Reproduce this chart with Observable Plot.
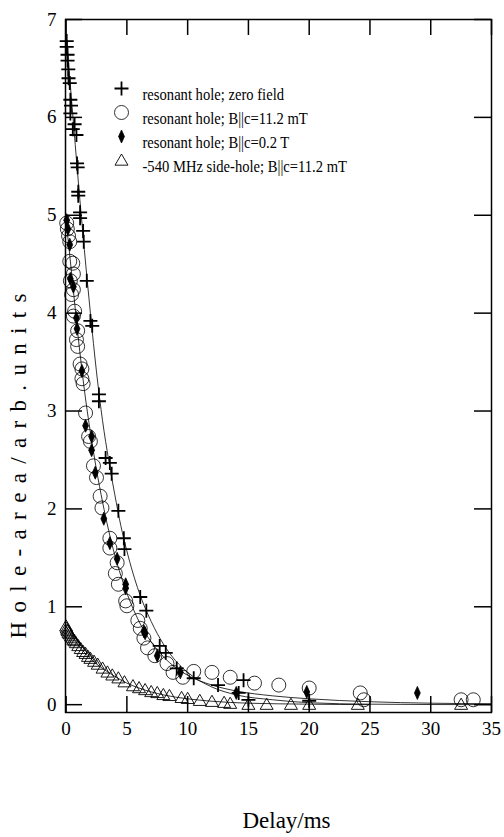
<!DOCTYPE html>
<html>
<head>
<meta charset="utf-8">
<script src="https://cdn.jsdelivr.net/npm/d3@7"></script>
<script src="https://cdn.jsdelivr.net/npm/@observablehq/plot@0.6"></script>
<style>
  html, body { margin: 0; padding: 0; background: #fff; }
  svg text { font-family: 'Liberation Serif', 'DejaVu Serif', serif; }
</style>
</head>
<body>
<div id="chart"></div>
<script>
// ---- data ----
const xTicks = [0, 5, 10, 15, 20, 25, 30, 35];
const yTicks = [0, 1, 2, 3, 4, 5, 6, 7];
const xLabel = "Delay/ms";
const yLabel = "Hole-area/arb.units";
const legendLabels = [
  "resonant hole; zero field",
  "resonant hole; B||c=11.2 mT",
  "resonant hole; B||c=0.2 T",
  "-540 MHz side-hole; B||c=11.2 mT"
];

// resonant hole; zero field (crosses)
const zeroField = [
  [0.05,6.78],[0.05,6.72],[0.12,6.64],[0.12,6.58],[0.18,6.49],[0.2,6.40],[0.3,6.35],
  [0.35,6.18],[0.4,6.12],[0.35,6.04],[0.7,5.93],[0.55,5.88],[0.85,5.82],[0.9,5.53],
  [0.95,5.49],[1.0,5.24],[1.0,5.20],[1.15,5.03],[1.15,4.97],[1.4,4.84],[1.45,4.73],
  [1.7,4.33],[2.0,3.92],[2.15,3.87],[2.7,3.17],[2.7,3.10],[3.25,2.52],[3.6,2.47],
  [3.75,2.36],[4.3,1.98],[4.75,1.70],[4.8,1.59],[6.1,1.10],[6.6,0.96],[7.7,0.60],
  [8.2,0.53],[9.1,0.37],[10.5,0.27],[12.5,0.20],[14.2,0.12],[14.6,0.25],[15.0,0.05],[20.0,0.04]
];

// resonant hole; B||c = 11.2 mT (open circles)
const field112 = [
  [0.05,4.92],[0.1,4.86],[0.2,4.79],[0.3,4.73],[0.3,4.53],[0.55,4.51],[0.6,4.40],
  [0.35,4.33],[0.6,4.24],[0.45,4.19],[0.7,4.02],[0.6,3.97],[0.95,3.82],[0.85,3.73],
  [0.95,3.66],[1.15,3.48],[1.3,3.43],[1.3,3.33],[1.4,3.28],[1.6,2.98],[1.85,2.74],
  [2.0,2.69],[2.25,2.44],[2.5,2.32],[2.8,2.13],[2.95,2.01],[3.6,1.70],[3.6,1.60],
  [4.2,1.45],[4.05,1.34],[4.3,1.23],[4.9,1.06],[5.0,1.01],[5.9,0.86],[6.1,0.78],
  [6.4,0.68],[6.7,0.58],[7.3,0.50],[8.3,0.42],[8.8,0.33],[9.6,0.28],[10.5,0.34],
  [12.0,0.33],[13.5,0.28],[15.5,0.22],[17.5,0.20],[20.0,0.17],[24.2,0.12],[24.5,0.05],
  [32.5,0.05],[33.5,0.05]
];

// resonant hole; B||c = 0.2 T (filled diamonds)
const field02 = [
  [0.05,4.95],[0.15,4.86],[0.3,4.70],[0.35,4.35],[0.6,4.27],[0.85,3.95],[0.9,3.84],
  [1.3,3.41],[1.6,2.85],[2.1,2.60],[2.1,2.74],[2.4,2.37],[3.1,1.90],[3.6,1.65],
  [4.2,1.49],[4.9,1.23],[4.9,1.19],[6.5,0.73],[6.4,0.75],[7.5,0.50],[9.4,0.33],
  [14.0,0.12],[19.8,0.13],[28.9,0.12]
];

// -540 MHz side-hole; B||c = 11.2 mT (open triangles)
const sideHole = [
  [0.0,0.80],[0.05,0.78],[0.1,0.76],[0.15,0.75],[0.2,0.73],[0.3,0.72],[0.4,0.70],
  [0.5,0.68],[0.6,0.66],[0.7,0.65],[0.8,0.63],[1.0,0.60],[1.2,0.57],[1.4,0.54],
  [1.6,0.52],[1.8,0.49],[2.0,0.47],[2.3,0.44],[2.6,0.41],[3.0,0.37],[3.4,0.33],
  [3.8,0.30],[4.3,0.27],[4.8,0.23],[5.5,0.19],[6.0,0.17],[6.5,0.15],[7.0,0.13],
  [7.5,0.12],[8.0,0.10],[8.5,0.09],[9.5,0.07],[10.0,0.06],[11.0,0.04],[12.0,0.03],
  [13.0,0.02],[13.5,0.01],[15.0,0.0],[16.5,0.0],[18.5,0.0],[20.0,0.0],[24.0,0.0],[32.5,0.0]
];

// fitted curves
const fitZeroField = [
  [0,6.85],[0.5,6.1],[1,5.35],[1.5,4.65],[2,4.0],[2.5,3.4],[3,2.9],[3.5,2.5],[4,2.15],
  [4.5,1.83],[5,1.57],[6,1.15],[7,0.85],[8,0.62],[9,0.45],[10,0.33],[12,0.18],[14,0.10],
  [17,0.05],[20,0.02],[25,0.005],[35,0]
];
const fitField = [
  [0,4.95],[0.5,4.35],[1,3.75],[1.5,3.22],[2,2.78],[2.5,2.4],[3,2.07],[3.5,1.78],[4,1.53],
  [4.5,1.32],[5,1.14],[6,0.85],[7,0.64],[8,0.49],[9,0.38],[10,0.30],[12,0.20],[14,0.14],
  [17,0.09],[20,0.06],[25,0.03],[30,0.015],[35,0.01]
];
const fitSide = [
  [0,0.80],[1,0.61],[2,0.47],[3,0.37],[4,0.29],[5,0.22],[6,0.17],[8,0.10],[10,0.06],
  [12,0.035],[15,0.015],[20,0.005],[25,0]
];

// ---- symbols ----
const plusSym = {draw(ctx, size) {
  const r = Math.sqrt(size / Math.PI);
  ctx.moveTo(-r, 0); ctx.lineTo(r, 0); ctx.moveTo(0, -r); ctx.lineTo(0, r);
}};
const diamondSym = {draw(ctx, size) {
  const r = Math.sqrt(size / Math.PI);
  ctx.moveTo(0, -r); ctx.lineTo(r * 0.45, 0); ctx.lineTo(0, r); ctx.lineTo(-r * 0.45, 0); ctx.closePath();
}};
const triSym = {draw(ctx, size) {
  const r = Math.sqrt(size / Math.PI);
  ctx.moveTo(0, -r); ctx.lineTo(r, r * 0.72); ctx.lineTo(-r, r * 0.72); ctx.closePath();
}};

const styles = [
  {symbol: plusSym, r: 7, stroke: "black", fill: "none", strokeWidth: 1.8},
  {symbol: "circle", r: 7, stroke: "black", fill: "none", strokeWidth: 0.8},
  {symbol: diamondSym, r: 6.5, stroke: "black", fill: "black", strokeWidth: 0.8},
  {symbol: triSym, r: 6.5, stroke: "black", fill: "none", strokeWidth: 0.9}
];

const W = 504, H = 837;
const mTop = 19, mRight = 13, mBottom = 125, mLeft = 65;
const plotW = W - mLeft - mRight, plotH = H - mTop - mBottom;
const font = "'Liberation Serif', 'DejaVu Serif', serif";
const legendFont = 17;       // drawn size
const legendNatural = 14.6;  // width it should take (scan is stretched vertically)

const series = [zeroField, field112, field02, sideHole];
const fits = [fitZeroField, fitField, fitSide];

const marks = [
  // fitted curves
  ...fits.map(f => Plot.line(f, {x: d => d[0], y: d => d[1], curve: "monotone-x", stroke: "black", strokeWidth: 0.8})),
  // data
  ...series.map((s, i) => Plot.dot(s, {x: d => d[0], y: d => d[1], ...styles[i]})),
  // frame
  Plot.frame({stroke: "black", strokeWidth: 1.5}),
  // inward ticks
  Plot.tickX(xTicks, {x: d => d, insetTop: plotH - 16, stroke: "black", strokeWidth: 1.5}),
  Plot.tickX(xTicks, {x: d => d, insetBottom: plotH - 16, stroke: "black", strokeWidth: 1.5}),
  Plot.tickY(yTicks, {y: d => d, insetRight: plotW - 17, stroke: "black", strokeWidth: 1.5}),
  Plot.tickY(yTicks, {y: d => d, insetLeft: plotW - 17, stroke: "black", strokeWidth: 1.5}),
  // tick labels
  Plot.axisX(xTicks, {anchor: "bottom", tickSize: 0, tickPadding: 9, label: null, fontSize: 19, fontFamily: font, tickFormat: d => String(d)}),
  Plot.axisY(yTicks, {anchor: "left", tickSize: 0, tickPadding: 9, label: null, fontSize: 19, fontFamily: font, tickFormat: d => String(d)}),
  // axis titles
  Plot.text([xLabel], {text: d => d, frameAnchor: "bottom", textAnchor: "middle", dx: 8, dy: 115, fontSize: 23, fontFamily: font}),
  Plot.text([yLabel], {text: d => d, frameAnchor: "left", textAnchor: "middle", rotate: -90, dx: -47, dy: 100, fontSize: 23, fontFamily: font}),
  // legend
  ...legendLabels.map((lab, i) => Plot.dot([lab], {frameAnchor: "top-left", dx: 56, dy: 69 + 24 * i, ...styles[i]})),
  ...legendLabels.map((lab, i) => Plot.text([lab], {text: d => d, frameAnchor: "top-left", dx: 77, dy: 68 + 24 * i, textAnchor: "start", fontSize: legendFont, fontFamily: font}))
];

const chart = Plot.plot({
  width: W,
  height: H,
  marginTop: mTop,
  marginRight: mRight,
  marginBottom: mBottom,
  marginLeft: mLeft,
  style: {fontFamily: font, background: "white", color: "black", fontSize: "17px"},
  x: {domain: [-0.05, 35]},
  y: {domain: [-0.08, 7]},
  marks
});
document.getElementById("chart").appendChild(chart);

// the scanned y title is drawn long: stretch it along its length
d3.select(chart).selectAll("text").filter(function() { return this.textContent === yLabel; })
  .attr("textLength", 345).attr("lengthAdjust", "spacing");
// legend text: tall glyphs at the width of a smaller font (vertically stretched scan)
d3.select(chart).selectAll("text").filter(function() { return legendLabels.includes(this.textContent); })
  .each(function() {
    const len = this.getComputedTextLength() * legendNatural / legendFont;
    d3.select(this).attr("textLength", len.toFixed(1)).attr("lengthAdjust", "spacingAndGlyphs");
  });
</script>
</body>
</html>
